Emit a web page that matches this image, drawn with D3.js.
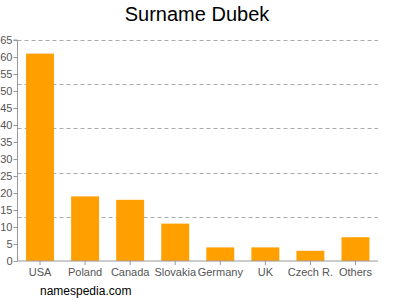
<!DOCTYPE html>
<html>
<head>
<meta charset="utf-8">
<script src="https://cdn.jsdelivr.net/npm/d3@7"></script>
<style>
  body { margin: 0; background: #fff; }
  svg { display: block; font-family: "Liberation Sans", Arial, sans-serif; }
</style>
</head>
<body>
<div id="chart"></div>
<script>
// chart data
const countries = ["USA", "Poland", "Canada", "Slovakia", "Germany", "UK", "Czech R.", "Others"];
const counts = [61, 19, 18, 11, 4, 4, 3, 7];
const yTicks = [0, 5, 10, 15, 20, 25, 30, 35, 40, 45, 50, 55, 60, 65];
const gridValues = [13, 26, 39, 52, 65];

const width = 400, height = 300;
const margin = {top: 40, right: 22, bottom: 39, left: 17.5};

let svg = d3.select("#chart")
  .append("svg")
  .attr("width", width)
  .attr("height", height);

let x = d3.scaleBand()
  .domain(countries)
  .range([margin.left, width - margin.right])
  .paddingInner(0.38)
  .paddingOuter(0.19);

let y = d3.scaleLinear()
  .domain([0, 65])
  .range([height - margin.bottom, margin.top]);

// title
svg.append("text")
  .attr("x", 197)
  .attr("y", 21)
  .attr("text-anchor", "middle")
  .attr("font-size", 20)
  .attr("fill", "#000")
  .text("Surname Dubek");

// dashed grid
svg.append("g")
  .selectAll("line")
  .data(gridValues)
  .enter()
    .append("line")
    .attr("x1", margin.left)
    .attr("x2", width - margin.right)
    .attr("y1", d => Math.round(y(d)) + 0.5)
    .attr("y2", d => Math.round(y(d)) + 0.5)
    .attr("stroke", "#aaa")
    .attr("stroke-dasharray", "4,3");

// bars
svg.append("g")
  .selectAll("rect")
  .data(countries)
  .enter()
    .append("rect")
    .attr("x", d => x(d))
    .attr("y", (d, i) => y(counts[i]))
    .attr("width", x.bandwidth())
    .attr("height", (d, i) => y(0) - y(counts[i]))
    .attr("fill", "#ffa000");

// y axis
let yAxis = svg.append("g")
  .attr("transform", `translate(${margin.left},0)`)
  .call(d3.axisLeft(y).tickValues(yTicks).tickSize(4).tickPadding(1));
yAxis.select(".domain").attr("stroke", "#999").attr("d", `M-4,${y(65)}H0V${y(0)}`);
yAxis.selectAll(".tick line").attr("stroke", "#999");
yAxis.selectAll("text")
  .attr("font-size", 11)
  .attr("font-family", "Liberation Sans, Arial, sans-serif")
  .attr("fill", "#555");

// x axis
let xAxis = svg.append("g")
  .attr("transform", `translate(0,${y(0)})`)
  .call(d3.axisBottom(x).tickSize(4).tickPadding(3));
xAxis.select(".domain").attr("stroke", "#999").attr("d", `M${margin.left},0H${width - margin.right}`);
xAxis.selectAll(".tick line").attr("stroke", "#999");
xAxis.selectAll("text")
  .attr("font-size", 11)
  .attr("font-family", "Liberation Sans, Arial, sans-serif")
  .attr("fill", "#555");

// footer
svg.append("text")
  .attr("x", 40)
  .attr("y", 295)
  .attr("font-size", 12)
  .attr("fill", "#000")
  .text("namespedia.com");
</script>
</body>
</html>
